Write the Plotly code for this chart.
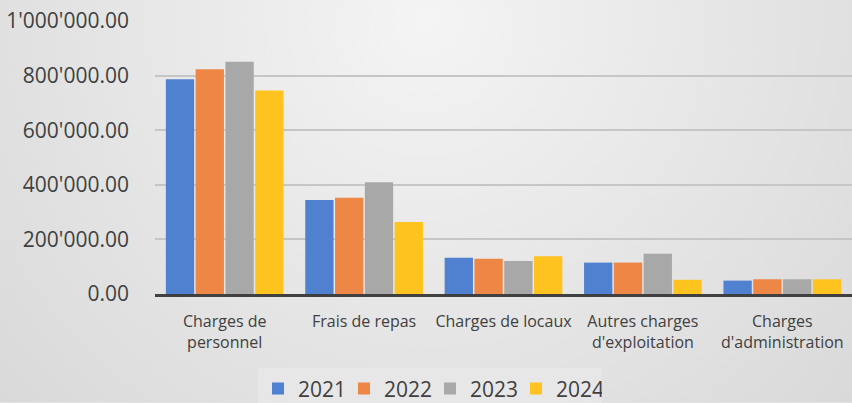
import base64
import plotly.graph_objects as go

categories = ["Charges de<br>personnel", "Frais de repas", "Charges de locaux",
              "Autres charges<br>d'exploitation", "Charges<br>d'administration"]
years = ["2021", "2022", "2023", "2024"]
v2021 = [787000, 344000, 133000, 115000, 49000]
v2022 = [823000, 353000, 129000, 115000, 54000]
v2023 = [851000, 409000, 121000, 147000, 54000]
v2024 = [745000, 264000, 138000, 52000, 54000]
series = [v2021, v2022, v2023, v2024]
colors = ["#5080D0", "#EE8646", "#A8A8A8", "#FFC31F"]
tickvals = [0, 200000, 400000, 600000, 800000, 1000000]

W, H = 852, 403
ml, mr, mt, mb = 155, 0, 21, 108.5
pw, ph = W - ml - mr, H - mt - mb

svg = f'''<svg xmlns="http://www.w3.org/2000/svg" width="{W}" height="{H}" viewBox="0 0 {W} {H}">
<defs><radialGradient id="g" cx="0.5" cy="0.05" r="0.75" gradientTransform="translate(0.5 0.05) scale(1 2.1) translate(-0.5 -0.05)">
<stop offset="0" stop-color="#f4f4f4"/><stop offset="1" stop-color="#d6d6d6"/></radialGradient></defs>
<rect width="{W}" height="{H}" fill="url(#g)"/></svg>'''
src = "data:image/svg+xml;base64," + base64.b64encode(svg.encode()).decode()

fig = go.Figure()
for name, vals, col in zip(years, series, colors):
    fig.add_trace(go.Bar(x=categories, y=vals, name=name, marker_color=col,
                         marker_line_width=0, hoverinfo="skip"))

fig.update_layout(
    width=W, height=H,
    margin=dict(l=ml, r=mr, t=mt, b=mb, autoexpand=False),
    barmode="group", bargap=0.145, bargroupgap=0.05,
    paper_bgcolor="#e2e2e2", plot_bgcolor="rgba(0,0,0,0)",
    separators=".'",
    font=dict(family="Open Sans, sans-serif", color="#404040"),
    images=[dict(source=src, xref="paper", yref="paper",
                 x=-ml / pw, y=1 + mt / ph, sizex=W / pw, sizey=H / ph,
                 xanchor="left", yanchor="top", sizing="stretch", layer="below")],
    legend=dict(orientation="h", x=(430 - ml) / pw, xref="paper", xanchor="center",
                y=-(369 - (H - mb)) / ph, yref="paper", yanchor="top",
                font=dict(size=21, color="#404040"), bgcolor="rgba(232,232,232,0.75)",
                itemwidth=30, entrywidth=41, entrywidthmode="pixels",
                traceorder="normal"),
    showlegend=True,
)
fig.update_yaxes(range=[0, 1000000], tickvals=tickvals, tickformat=",.2f",
                 showgrid=True, gridcolor="#c6c6c6", gridwidth=2,
                 zeroline=False, showline=False, ticks="",
                 tickfont=dict(size=21, color="#404040"), ticklabelstandoff=25)
fig.update_xaxes(showline=True, linecolor="#404040", linewidth=3, ticks="",
                 tickfont=dict(size=16, color="#404040"), ticklabelstandoff=11)

fig.write_html("out.html", config={"displayModeBar": False},
               post_script="document.body.style.margin='0';document.body.style.overflow='hidden';")
